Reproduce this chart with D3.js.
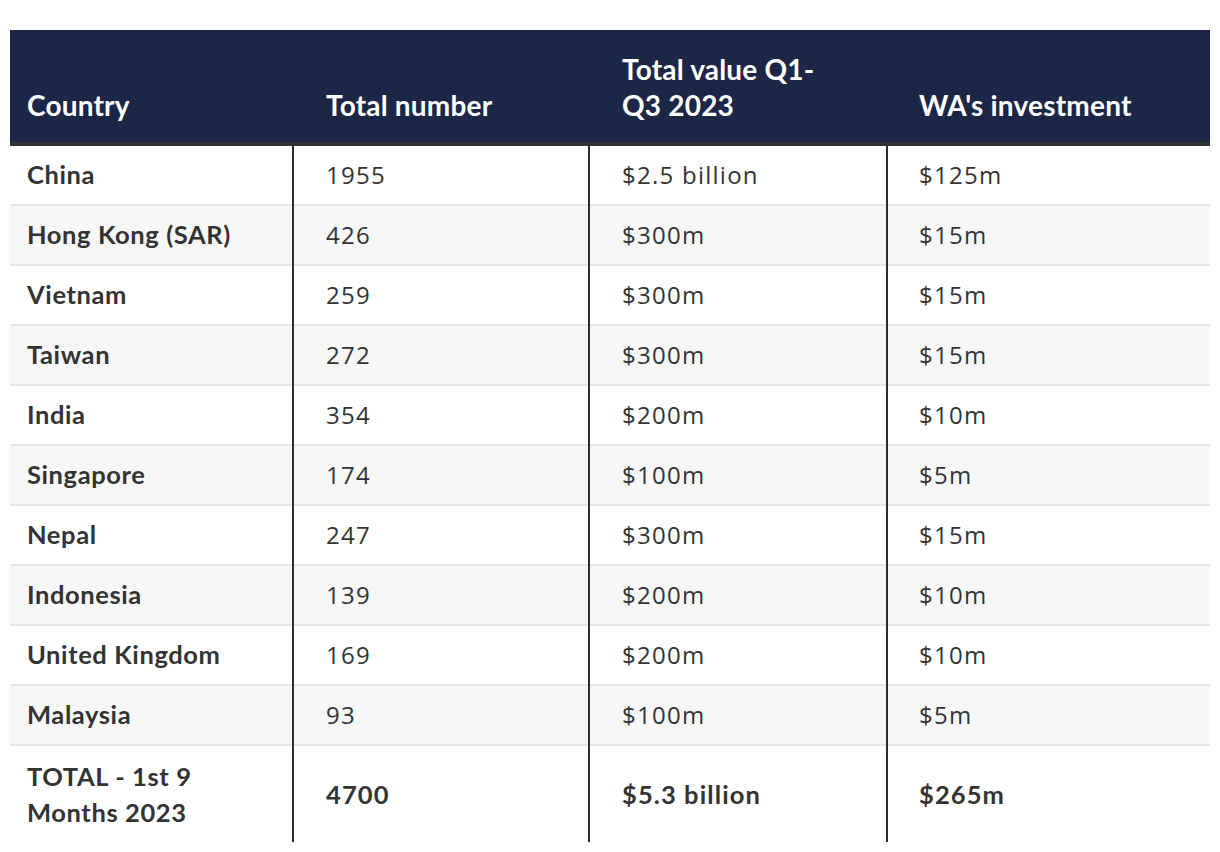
<!DOCTYPE html>
<html>
<head>
<meta charset="utf-8">
<script src="https://cdn.jsdelivr.net/npm/d3@7"></script>
<style>
  html, body { margin: 0; padding: 0; background: #fff; }
  svg { display: block; }
</style>
</head>
<body>
<svg id="chart" width="1220" height="852"></svg>
<script>
// ---- data ----
const headers = [["Country"], ["Total number"], ["Total value Q1-", "Q3 2023"], ["WA's investment"]];
const countries = ["China", "Hong Kong (SAR)", "Vietnam", "Taiwan", "India", "Singapore", "Nepal", "Indonesia", "United Kingdom", "Malaysia"];
const totalNumber = [1955, 426, 259, 272, 354, 174, 247, 139, 169, 93];
const totalValue = ["$2.5 billion", "$300m", "$300m", "$300m", "$200m", "$100m", "$300m", "$200m", "$200m", "$100m"];
const waInvestment = ["$125m", "$15m", "$15m", "$15m", "$10m", "$5m", "$15m", "$10m", "$10m", "$5m"];
const totalLabel = ["TOTAL - 1st 9", "Months 2023"];
const totalRow = ["4700", "$5.3 billion", "$265m"];

// ---- layout ----
const BOLD = "Lato, 'PT Sans', sans-serif";
const REG = "'Open Sans', 'PT Sans', sans-serif";
const colEdges = [10, 292, 588, 886, 1210];
const textX = [27, 326, 622, 919];
const headerTop = 30, headerBottom = 142, bandH = 4;
const rowTop = 146, rowH = 60, totalH = 96;

const svg = d3.select("#chart");

// header background
svg.append("rect").attr("x", colEdges[0]).attr("y", headerTop)
  .attr("width", colEdges[4] - colEdges[0]).attr("height", headerBottom - headerTop)
  .attr("fill", "#1c2748");
svg.append("rect").attr("x", colEdges[0]).attr("y", headerBottom)
  .attr("width", colEdges[4] - colEdges[0]).attr("height", bandH)
  .attr("fill", "#333333");

// header text
headers.forEach((lines, i) => {
  const t = svg.append("text").attr("x", textX[i]).attr("font-family", BOLD)
    .attr("font-weight", 700).attr("font-size", 28).attr("letter-spacing", 0.2)
    .attr("fill", "#ffffff");
  const n = lines.length;
  lines.forEach((l, j) => {
    t.append("tspan").attr("x", textX[i]).attr("y", 116 - (n - 1 - j) * 36).text(l);
  });
});

// rows
const rows = countries.map((c, i) => [c, String(totalNumber[i]), totalValue[i], waInvestment[i]]);
const rowG = svg.selectAll("g.row").data(rows).join("g").attr("class", "row")
  .attr("transform", (d, i) => `translate(0,${rowTop + i * rowH})`);

rowG.append("rect").attr("x", colEdges[0]).attr("y", 0)
  .attr("width", colEdges[4] - colEdges[0]).attr("height", rowH)
  .attr("fill", (d, i) => i % 2 === 1 ? "#f7f7f7" : "#ffffff");
rowG.append("rect").attr("x", colEdges[0]).attr("y", rowH - 2)
  .attr("width", colEdges[4] - colEdges[0]).attr("height", 2)
  .attr("fill", "#e6e6e6");

rowG.selectAll("text").data(d => d).join("text")
  .attr("x", (d, i) => textX[i]).attr("y", 38)
  .attr("font-family", (d, i) => i === 0 ? BOLD : REG)
  .attr("font-size", (d, i) => i === 0 ? 25.5 : 24)
  .attr("letter-spacing", (d, i) => i === 0 ? 0.6 : 1.25)
  .attr("font-weight", (d, i) => i === 0 ? 700 : 400)
  .attr("fill", "#333333")
  .text(d => d);

// total row
const totalY = rowTop + countries.length * rowH;
const tl = svg.append("text").attr("font-family", BOLD).attr("font-size", 25.5)
  .attr("letter-spacing", 0.6)
  .attr("font-weight", 700).attr("fill", "#333333");
totalLabel.forEach((l, j) => {
  tl.append("tspan").attr("x", textX[0]).attr("y", totalY + 40 + j * 36).text(l);
});
svg.selectAll("text.totalval").data(totalRow).join("text").attr("class", "totalval")
  .attr("x", (d, i) => textX[i + 1]).attr("y", totalY + 58)
  .attr("font-family", BOLD).attr("font-size", 25.5).attr("font-weight", 700)
  .attr("letter-spacing", 1.1)
  .attr("fill", "#333333").text(d => d);

// vertical lines
const bottom = totalY + totalH;
svg.selectAll("rect.vline").data(colEdges.slice(1, 4)).join("rect").attr("class", "vline")
  .attr("x", d => d).attr("y", rowTop).attr("width", 2).attr("height", bottom - rowTop)
  .attr("fill", "#2b2b2b");
</script>
</body>
</html>
